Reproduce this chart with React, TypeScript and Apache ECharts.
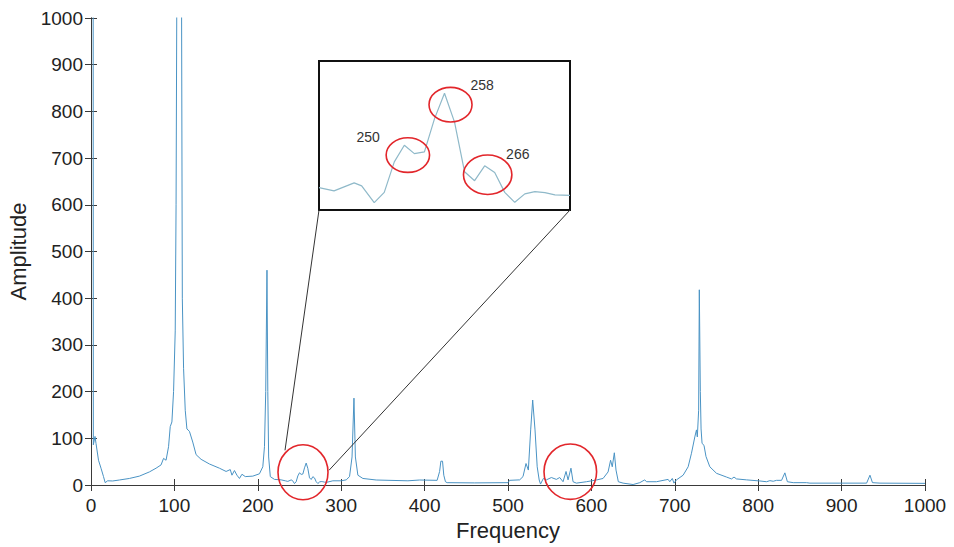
import React, { useEffect, useRef } from "react";
import * as echarts from "echarts";

// Main spectrum, low-frequency part (Hz, amplitude)
const freqLow = [0, 2.5, 2.8, 4.8, 6, 9, 12, 15, 17, 20, 26, 34, 46, 58, 70, 78, 84, 87, 90, 93, 95, 97, 99, 101, 102, 103, 105.5, 108.5, 109.5, 111, 113, 115, 118, 122, 126, 132, 142, 154, 162, 167, 169, 172, 175, 178, 181, 185, 194, 202, 206, 208, 209.5, 211, 212, 213, 215, 220, 228];
const ampLow = [1500, 1500, 86, 104, 89, 53, 36, 18, 5, 9, 8.6, 10.7, 14, 19, 28, 36, 43, 57, 53, 82, 125, 135, 200, 330, 600, 1100, 2500, 1100, 400, 250, 160, 120, 115, 92, 65, 55, 45, 36, 29, 33, 21, 31, 21, 14, 23, 18, 19, 24, 39, 82, 200, 460, 200, 60, 18, 12, 11];

// Zoomed region (also part of the main spectrum)
const insetFreq = [233, 236, 240, 241.5, 244, 246, 248, 250, 252, 254, 256, 258, 260, 262, 264, 266, 268, 270, 272, 274, 276, 278, 280, 283];
const insetAmp = [9.0, 7.7, 10.9, 9.7, 3.0, 7.1, 19.4, 26.1, 22.7, 23.4, 36.7, 47, 35.4, 15.4, 11.8, 17.8, 15.1, 7.1, 3.1, 6.5, 7.4, 7.0, 6.1, 5.9];

// Main spectrum, high-frequency part
const freqHigh = [290, 300, 306, 310, 313, 315.3, 317, 320, 326, 342, 380, 394, 415, 418, 419.5, 421.5, 423, 425, 427, 460, 500, 502, 514, 518, 521.6, 524.4, 527.2, 529.6, 532.4, 535, 537.4, 539, 542.4, 546, 552, 558, 562, 566, 569.6, 572, 575.5, 578, 582, 594, 606, 614, 620, 623, 625, 627.5, 629.5, 632.3, 638, 650, 658, 664, 666, 678, 692, 694, 697, 699, 702, 710, 716, 720, 724, 726, 727, 728.6, 729.4, 730.6, 731.5, 732.7, 735, 737.4, 742, 750, 762, 768, 771, 774, 786, 802, 810, 814, 818, 822, 828, 832, 835, 842, 858, 862, 898, 930, 934, 937, 946, 1000];
const ampHigh = [9, 9, 11, 18, 60, 186, 60, 21, 14, 10.7, 9, 10.7, 10, 29, 51, 51, 21, 7, 5, 4.5, 5, 10, 11, 18, 46, 32, 118, 182, 118, 39, 10.7, 2, 14, 11, 16, 12, 16, 7, 29, 11, 36, 7, 4, 7, 10.7, 14, 28, 53, 39, 69, 32, 7, 4, 1, 5, 11, 7, 7, 12, 7, 14, 4, 11, 21, 39, 68, 103, 118, 103, 160, 418, 200, 120, 89, 85, 61, 39, 25, 17, 13, 17, 13, 11, 8.6, 7, 9.3, 8, 10, 10, 26, 7, 5, 5, 4, 4, 4, 21, 5, 4, 3.5];

// Annotated peaks in the inset
const peakLabels = ["250", "258", "266"];
const xTicks = { min: 0, max: 1000, interval: 100 };
const yTicks = { min: 0, max: 1000, interval: 100 };

const FONT = "Liberation Sans, Arial, Helvetica, sans-serif";
const AXIS_COLOR = "#3a3a3a";
const TEXT_COLOR = "#222";
const LINE_COLOR = "#4a93c4";
const INSET_COLOR = "#8fb9c9";
const RED = "#e2262b";

export default function App() {
  const ref = useRef<HTMLDivElement>(null);

  useEffect(() => {
    if (!ref.current) return;
    const chart = echarts.init(ref.current, undefined, { renderer: "svg" });

    const mainData: number[][] = [];
    freqLow.forEach((f, i) => mainData.push([f, ampLow[i]]));
    insetFreq.forEach((f, i) => mainData.push([f, insetAmp[i]]));
    freqHigh.forEach((f, i) => mainData.push([f, ampHigh[i]]));
    const insetData = insetFreq.map((f, i) => [f, insetAmp[i]]);

    const tickStyle = { show: true, inside: true, length: 6, lineStyle: { color: AXIS_COLOR, width: 1 } };
    const lineStyle = { show: true, lineStyle: { color: AXIS_COLOR, width: 1 } };
    const fmt = (v: number) => String(v);

    chart.setOption({
      animation: false,
      backgroundColor: "#fff",
      grid: [
        { left: 91, right: 29, top: 18, bottom: 62, containLabel: false, outerBoundsMode: "none" },
        { left: 319, top: 61, width: 251, height: 149, show: true, borderColor: "#111", borderWidth: 2, backgroundColor: "#fff", containLabel: false, outerBoundsMode: "none" },
      ],
      xAxis: [
        {
          type: "value", gridIndex: 0, position: "bottom", ...xTicks,
          axisLine: lineStyle, axisTick: tickStyle, splitLine: { show: false },
          axisLabel: { color: TEXT_COLOR, fontSize: 19, fontFamily: FONT, margin: 11, formatter: fmt },
          name: "Frequency", nameLocation: "middle", nameGap: 33,
          nameTextStyle: { color: TEXT_COLOR, fontSize: 22, fontFamily: FONT },
        },
        {
          type: "value", gridIndex: 0, position: "top", ...xTicks,
          axisLine: lineStyle, axisTick: tickStyle, splitLine: { show: false },
          axisLabel: { show: false },
        },
        {
          type: "value", gridIndex: 1, min: insetFreq[0], max: insetFreq[insetFreq.length - 1],
          show: false, splitLine: { show: false },
        },
      ],
      yAxis: [
        {
          type: "value", gridIndex: 0, position: "left", ...yTicks,
          axisLine: lineStyle, axisTick: tickStyle, splitLine: { show: false },
          axisLabel: { color: TEXT_COLOR, fontSize: 19, fontFamily: FONT, margin: 8, formatter: fmt },
          name: "Amplitude", nameLocation: "middle", nameGap: 58,
          nameTextStyle: { color: TEXT_COLOR, fontSize: 22, fontFamily: FONT },
        },
        {
          type: "value", gridIndex: 0, position: "right", ...yTicks,
          axisLine: lineStyle, axisTick: tickStyle, splitLine: { show: false },
          axisLabel: { show: false },
        },
        {
          type: "value", gridIndex: 1, min: 0, max: 60, show: false, splitLine: { show: false },
        },
      ],
      series: [
        {
          type: "line", xAxisIndex: 0, yAxisIndex: 0, data: mainData,
          symbol: "none", clip: true, z: 3,
          lineStyle: { color: LINE_COLOR, width: 1 },
        },
        {
          type: "line", xAxisIndex: 2, yAxisIndex: 2, data: insetData,
          symbol: "none", clip: true, z: 3,
          lineStyle: { color: INSET_COLOR, width: 1.2 },
        },
      ],
    });

    const pm = (x: number, y: number) => chart.convertToPixel({ seriesIndex: 0 }, [x, y]) as number[];
    const pi = (x: number, y: number) => chart.convertToPixel({ seriesIndex: 1 }, [x, y]) as number[];

    const ell = (c: number[], rx: number, ry: number) => ({
      type: "ellipse",
      shape: { cx: c[0], cy: c[1], rx, ry },
      style: { fill: "none", stroke: RED, lineWidth: 1.6 },
      z: 10,
    });
    const txt = (c: number[], t: string) => ({
      type: "text", x: c[0], y: c[1], z: 10,
      style: { text: t, fill: "#333", fontSize: 14, fontFamily: FONT, align: "center", verticalAlign: "middle", textAlign: "center", textVerticalAlign: "middle" },
    });

    const m1 = pm(254.2, 27.2);
    const m2 = pm(574.7, 28.5);
    const c250 = pi(250.7, 22.1);
    const c258 = pi(259.2, 42.4);
    const c266 = pi(266.6, 14.2);
    const bl = pi(insetFreq[0], 0);
    const br = pi(insetFreq[insetFreq.length - 1], 0);

    chart.setOption({
      graphic: [
        { type: "line", z: 9, shape: { x1: bl[0], y1: bl[1], x2: m1[0] - 18, y2: m1[1] - 22 }, style: { stroke: "#333", lineWidth: 1 } },
        { type: "line", z: 9, shape: { x1: br[0], y1: br[1], x2: m1[0] + 26, y2: m1[1] - 2 }, style: { stroke: "#333", lineWidth: 1 } },
        ell(m1, 25, 27.5),
        ell(m2, 26.3, 27.7),
        ell(c250, 21.7, 17.3),
        ell(c258, 21.5, 17.3),
        ell(c266, 24.2, 19.7),
        txt(pi(242.8, 29.4), peakLabels[0]),
        txt(pi(265.5, 50.3), peakLabels[1]),
        txt(pi(272.6, 22.6), peakLabels[2]),
      ],
    });

    return () => chart.dispose();
  }, []);

  return (
    <div
      ref={ref}
      style={{ position: "absolute", left: 0, top: 0, width: 954, height: 547, background: "#fff" }}
    />
  );
}
